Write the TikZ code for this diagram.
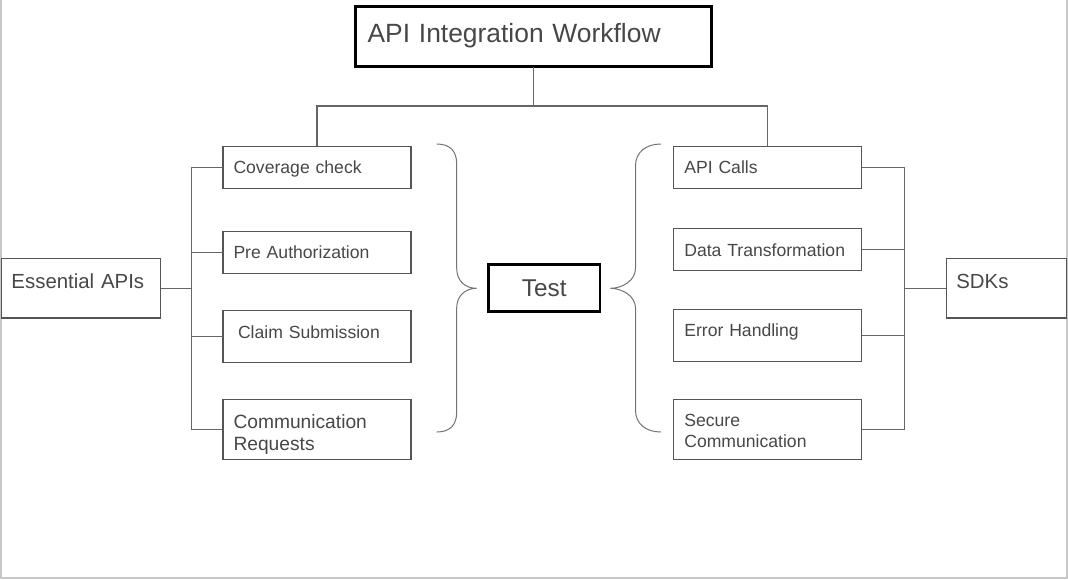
\documentclass[tikz,border=0pt]{standalone}
\usepackage{fontspec}
\setmainfont{Liberation Sans}
\usepackage{tikz}
\usetikzlibrary{positioning}
\definecolor{boxgray}{HTML}{555555}
\definecolor{textgray}{HTML}{474747}
\definecolor{linegray}{HTML}{666666}
\definecolor{framegray}{HTML}{C8C8C8}

\begin{document}
\begin{tikzpicture}[x=1pt,y=-1pt,node distance=40pt]
    \tikzset{
      rectnode/.style={rectangle,draw=boxgray,line width=1.3pt,text=textgray,outer sep=0pt,inner xsep=10.5pt,inner ysep=0pt,minimum width=188pt,minimum height=42pt,text width=167pt,align=left,font=\fontsize{17.6}{21}\selectfont},
      rectbold/.style={rectangle,draw=black,line width=2.6pt,text=textgray,outer sep=0pt,inner ysep=0pt},
      oneline/.style={text height=12.6pt,text depth=#1},
      oneline/.default=0pt,
      connline/.style={draw=linegray,line width=1.2pt},
      bracepath/.style={draw=black!55,line width=1pt}
    }
    \useasboundingbox (0,0) rectangle (1068,579);
    \draw[framegray,line width=1.5pt] (1,0) -- (1,578) -- (1067,578) -- (1067,0);

    \node[rectbold,minimum width=355.8pt,minimum height=60pt,inner xsep=12pt,text width=331.8pt,align=left,font=\fontsize{26.4}{30}\selectfont,text height=18.9pt,text depth=7.8pt](workflow) at (533.5,36.7){API Integration Workflow};
    \node[rectbold,minimum width=111.5pt,minimum height=47.5pt,font=\fontsize{24.3}{28}\selectfont,text height=17.4pt,text depth=0pt](test) at (544.2,288){Test};

    \node[rectnode,oneline](coverage) at (317,167.2){Coverage check};
    \node[rectnode,oneline,below=43pt of coverage](preauth){Pre Authorization};
    \node[rectnode,oneline=9.2pt,below=37.5pt of preauth,minimum height=52pt](claim){\hspace*{4.5pt}Claim Submission};
    \node[rectnode,below=36.5pt of claim,minimum height=60pt,font=\fontsize{19.2}{22.4}\selectfont,text height=13.75pt,text depth=15.8pt](commreq){Communication\\Requests};
    \node[rectnode,oneline=13.8pt,text height=14.6pt,minimum width=159pt,text width=139pt,inner xsep=10pt,minimum height=59.5pt,font=\fontsize{20.4}{24}\selectfont](essential) at (81,288.2){Essential APIs};

    \node[rectnode,oneline](apicalls) at (767.8,167.2){API Calls};
    \node[rectnode,oneline,below=40.5pt of apicalls](datatrans){Data Transformation};
    \node[rectnode,oneline=10.2pt,below=38.5pt of datatrans,minimum height=52pt](errorh){Error Handling};
    \node[rectnode,below=38pt of errorh,minimum height=60pt,text height=12.6pt,text depth=18.4pt](securec){Secure\\Communication};
    \node[rectnode,oneline=13.8pt,text height=14.6pt,minimum width=120pt,text width=100pt,inner xsep=10pt,minimum height=59.5pt,font=\fontsize{20.4}{24}\selectfont](sdks) at (1006.3,288.2){SDKs};

    \coordinate (leftbus) at (191.8,0);
    \coordinate (rightbus) at (904.2,0);
    \draw[connline] (workflow.south) -- ++(0,39.3) -| (coverage.north);
    \draw[connline] (workflow.south) -- ++(0,39.3) -| (apicalls.north);
    \draw[connline] (coverage.west) -| (leftbus |- commreq.west) -- (commreq.west);
    \foreach \n in {preauth,claim}
      \draw[connline] (\n.west) -- (leftbus |- \n.west);
    \draw[connline] (essential.east) -- (leftbus |- essential.east);
    \draw[connline] (apicalls.east) -| (rightbus |- securec.east) -- (securec.east);
    \foreach \n in {datatrans,errorh}
      \draw[connline] (\n.east) -- (rightbus |- \n.east);
    \draw[connline] (sdks.west) -- (rightbus |- sdks.west);

    \draw[bracepath] (436.7,144) .. controls (450,144) and (456.7,151) .. (456.7,164) -- (456.7,268) .. controls (456.7,281) and (465,288.3) .. (476.7,288.3) .. controls (465,288.3) and (456.7,296) .. (456.7,308) -- (456.7,412) .. controls (456.7,425) and (450,432) .. (436.7,432);
    \draw[bracepath] (661,144) .. controls (646,144) and (635.5,152) .. (635.5,166) -- (635.5,268) .. controls (635.5,281) and (622,288.3) .. (610.5,288.3) .. controls (622,288.3) and (635.5,296) .. (635.5,308) -- (635.5,410) .. controls (635.5,424) and (646,432) .. (661,432);

  \end{tikzpicture}
\end{document}
